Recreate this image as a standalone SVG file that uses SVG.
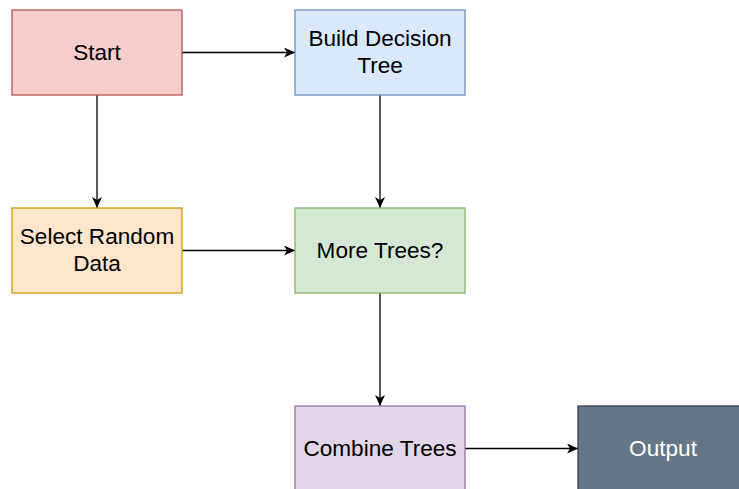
<svg xmlns="http://www.w3.org/2000/svg" width="739" height="489" viewBox="0 0 739 489">
<defs>
<marker id="arr" markerWidth="12" markerHeight="10" viewBox="0 0 12 10" refX="11" refY="5" orient="auto" markerUnits="userSpaceOnUse">
<path d="M0,0 L11,5 L0,10 L3,5 Z" fill="#000"/>
</marker>
<style>
.box{stroke-width:1.3}
.t{font-family:"Liberation Sans",Arial,sans-serif;font-size:22.6px;text-anchor:middle;fill:#000}
.e{stroke:#000;stroke-width:1.3;fill:none;marker-end:url(#arr)}
</style>
</defs>
<rect width="739" height="489" fill="#fff"/>
<g id="connectors">
<path class="e" d="M182,52.5 H295"/>
<path class="e" d="M97,95 V208"/>
<path class="e" d="M380,95 V208"/>
<path class="e" d="M182,250.5 H295"/>
<path class="e" d="M380,293 V406"/>
<path class="e" d="M465,448.5 H578"/>
</g>
<g id="start">
<rect class="box" x="12" y="10" width="170" height="85" fill="#f8cecc" stroke="#b85450"/>
<text class="t" x="97" y="60">Start</text>
</g>
<g id="build">
<rect class="box" x="295" y="10" width="170" height="85" fill="#dae8fc" stroke="#6c8ebf"/>
<text class="t" x="380" y="46">Build Decision</text>
<text class="t" x="380" y="73">Tree</text>
</g>
<g id="select">
<rect class="box" x="12" y="208" width="170" height="85" fill="#ffe6cc" stroke="#d79b00"/>
<text class="t" x="97" y="244">Select Random</text>
<text class="t" x="97" y="271">Data</text>
</g>
<g id="more">
<rect class="box" x="295" y="208" width="170" height="85" fill="#d5e8d4" stroke="#82b366"/>
<text class="t" x="380" y="258">More Trees?</text>
</g>
<g id="combine">
<rect class="box" x="295" y="406" width="170" height="85" fill="#e1d5e7" stroke="#9673a6"/>
<text class="t" x="380" y="456">Combine Trees</text>
</g>
<g id="output">
<rect class="box" x="578" y="406" width="170" height="85" fill="#647687" stroke="#314354"/>
<text class="t" x="663" y="456" style="fill:#fff">Output</text>
</g>
</svg>
